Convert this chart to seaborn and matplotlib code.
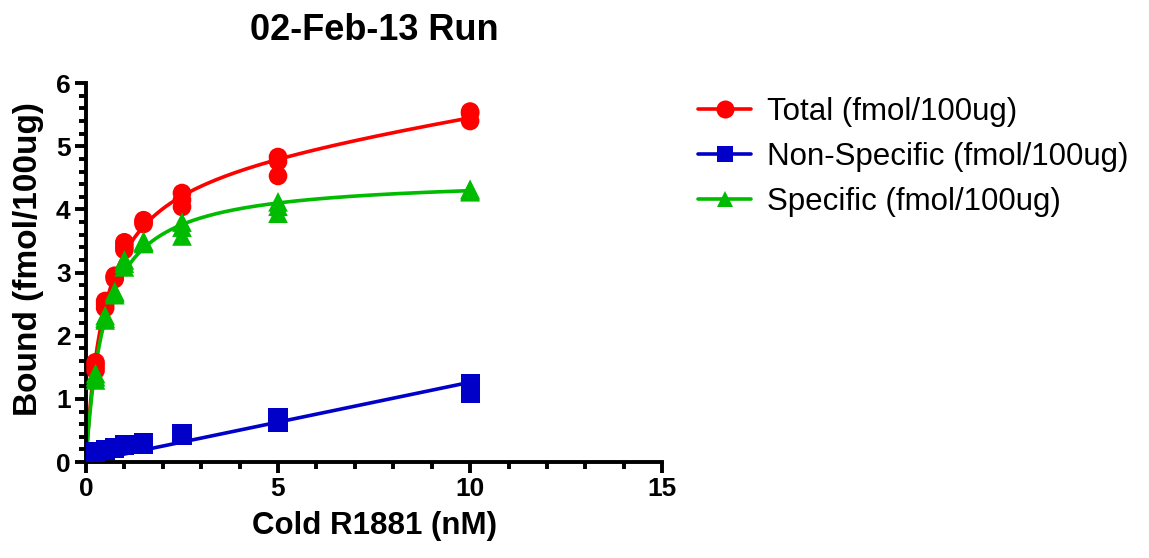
import numpy as np
import pandas as pd
import matplotlib
matplotlib.use("Agg")
import matplotlib.pyplot as plt
from matplotlib.lines import Line2D
from matplotlib.ticker import MultipleLocator
import seaborn as sns

# Saturation binding run: cold R1881 concentration (nM), triplicate readings
conc = [0.25, 0.5, 0.75, 1.0, 1.5, 2.5, 5.0, 10.0]

total_rep1 = [1.58, 2.55, 2.95, 3.48, 3.83, 4.26, 4.83, 5.55]
total_rep2 = [1.52, 2.50, 2.93, 3.42, 3.80, 4.15, 4.76, 5.52]
total_rep3 = [1.45, 2.44, 2.90, 3.36, 3.77, 4.04, 4.53, 5.40]

nonspec_rep1 = [0.15, 0.18, 0.21, 0.26, 0.28, 0.42, 0.62, 1.25]
nonspec_rep2 = [0.16, 0.19, 0.22, 0.27, 0.30, 0.44, 0.66, 1.18]
nonspec_rep3 = [0.17, 0.20, 0.23, 0.28, 0.31, 0.45, 0.70, 1.08]

spec_rep1 = [1.40, 2.32, 2.70, 3.20, 3.50, 3.80, 4.12, 4.32]
spec_rep2 = [1.35, 2.28, 2.68, 3.15, 3.48, 3.72, 4.05, 4.30]
spec_rep3 = [1.30, 2.25, 2.65, 3.09, 3.46, 3.58, 3.94, 4.28]

series_names = ["Total (fmol/100ug)", "Non-Specific (fmol/100ug)", "Specific (fmol/100ug)"]
colors = ["#FF0000", "#0000C8", "#00BB00"]
markers = ["o", "s", "^"]

title = "02-Feb-13 Run"
xlabel = "Cold R1881 (nM)"
ylabel = "Bound (fmol/100ug)"


def stack(*reps):
    xs = np.tile(np.array(conc), len(reps))
    ys = np.concatenate([np.array(r) for r in reps])
    return xs, ys


x_tot, y_tot = stack(total_rep1, total_rep2, total_rep3)
x_ns, y_ns = stack(nonspec_rep1, nonspec_rep2, nonspec_rep3)
x_sp, y_sp = stack(spec_rep1, spec_rep2, spec_rep3)

kd_grid = np.logspace(-2, 1.5, 4000)


def fit_one_site(x, y):
    best = None
    for kd in kd_grid:
        h = x / (kd + x)
        bmax = h @ y / (h @ h)
        sse = np.sum((y - bmax * h) ** 2)
        if best is None or sse < best[0]:
            best = (sse, bmax, kd)
    return best[1], best[2]


def fit_total_ns(x, y):
    best = None
    for kd in kd_grid:
        A = np.column_stack([x / (kd + x), x])
        coef, *_ = np.linalg.lstsq(A, y, rcond=None)
        sse = np.sum((y - A @ coef) ** 2)
        if best is None or sse < best[0]:
            best = (sse, coef[0], coef[1], kd)
    return best[1], best[2], best[3]


slope_ns = (x_ns @ y_ns) / (x_ns @ x_ns)
bmax_sp, kd_sp = fit_one_site(x_sp, y_sp)
bmax_t, ns_t, kd_t = fit_total_ns(x_tot, y_tot)

xf = np.linspace(0, max(conc), 400)
fits = pd.DataFrame({
    "x": np.concatenate([xf, xf, xf]),
    "y": np.concatenate([bmax_t * xf / (kd_t + xf) + ns_t * xf,
                         slope_ns * xf,
                         bmax_sp * xf / (kd_sp + xf)]),
    "series": np.repeat(series_names, len(xf)),
})
points = pd.DataFrame({
    "x": np.concatenate([x_tot, x_ns, x_sp]),
    "y": np.concatenate([y_tot, y_ns, y_sp]),
    "series": np.repeat(series_names, [len(x_tot), len(x_ns), len(x_sp)]),
})

sns.set_theme(style="white")
plt.rcParams["font.family"] = ["Liberation Sans", "DejaVu Sans"]
plt.rcParams["text.color"] = "black"
plt.rcParams["axes.labelcolor"] = "black"
plt.rcParams["xtick.color"] = "black"
plt.rcParams["ytick.color"] = "black"

fig = plt.figure(figsize=(11.49, 5.58), dpi=100)
ax = fig.add_axes([0.0748, 0.172, 0.5015, 0.679])

palette = dict(zip(series_names, colors))
sns.lineplot(data=fits, x="x", y="y", hue="series", palette=palette,
             linewidth=2.6, legend=False, ax=ax, zorder=2)
marker_sizes = {"o": 180, "s": 190, "^": 200}
for name, col, mk in zip(series_names, colors, markers):
    sub = points[points["series"] == name]
    sns.scatterplot(data=sub, x="x", y="y", color=col, marker=mk,
                    s=marker_sizes[mk], edgecolor="none", linewidth=0,
                    legend=False, ax=ax, zorder=3, clip_on=False)

ax.set_xlim(0, 15)
ax.set_ylim(0, 6)
ax.xaxis.set_major_locator(MultipleLocator(5))
ax.xaxis.set_minor_locator(MultipleLocator(1))
ax.yaxis.set_major_locator(MultipleLocator(1))
ax.yaxis.set_minor_locator(MultipleLocator(0.2))

for side in ["top", "right"]:
    ax.spines[side].set_visible(False)
for side in ["left", "bottom"]:
    ax.spines[side].set_linewidth(2.8)
    ax.spines[side].set_color("black")

ax.tick_params(which="major", direction="out", length=8, width=2.8,
               color="black", labelcolor="black", labelsize=19, pad=3)
ax.tick_params(which="minor", direction="out", length=5, width=2.8,
               color="black")
ax.tick_params(axis="both", which="both", bottom=True, left=True)
for lab in ax.get_xticklabels() + ax.get_yticklabels():
    lab.set_fontweight("bold")

ax.set_xlabel(xlabel, fontsize=22.5, fontweight="bold", labelpad=7, color="black")
ax.set_ylabel(ylabel, fontsize=24, fontweight="bold", color="black")
ax.yaxis.set_label_coords(-0.072, 0.536)
ax.set_title(title, fontsize=26, fontweight="bold", pad=31, color="black")

handles = [Line2D([0], [0], color=c, marker=m, markersize=13 if m == "o" else 12,
                  linewidth=2.6, markeredgewidth=0)
           for c, m in zip(colors, markers)]
leg = fig.legend(handles, series_names, loc="upper left",
                 bbox_to_anchor=(0.583, 0.877), frameon=False, fontsize=22.5,
                 handlelength=1.7, handletextpad=0.5, labelspacing=0.48)
for txt in leg.get_texts():
    txt.set_color("black")

fig.savefig("out.png", dpi=100)
